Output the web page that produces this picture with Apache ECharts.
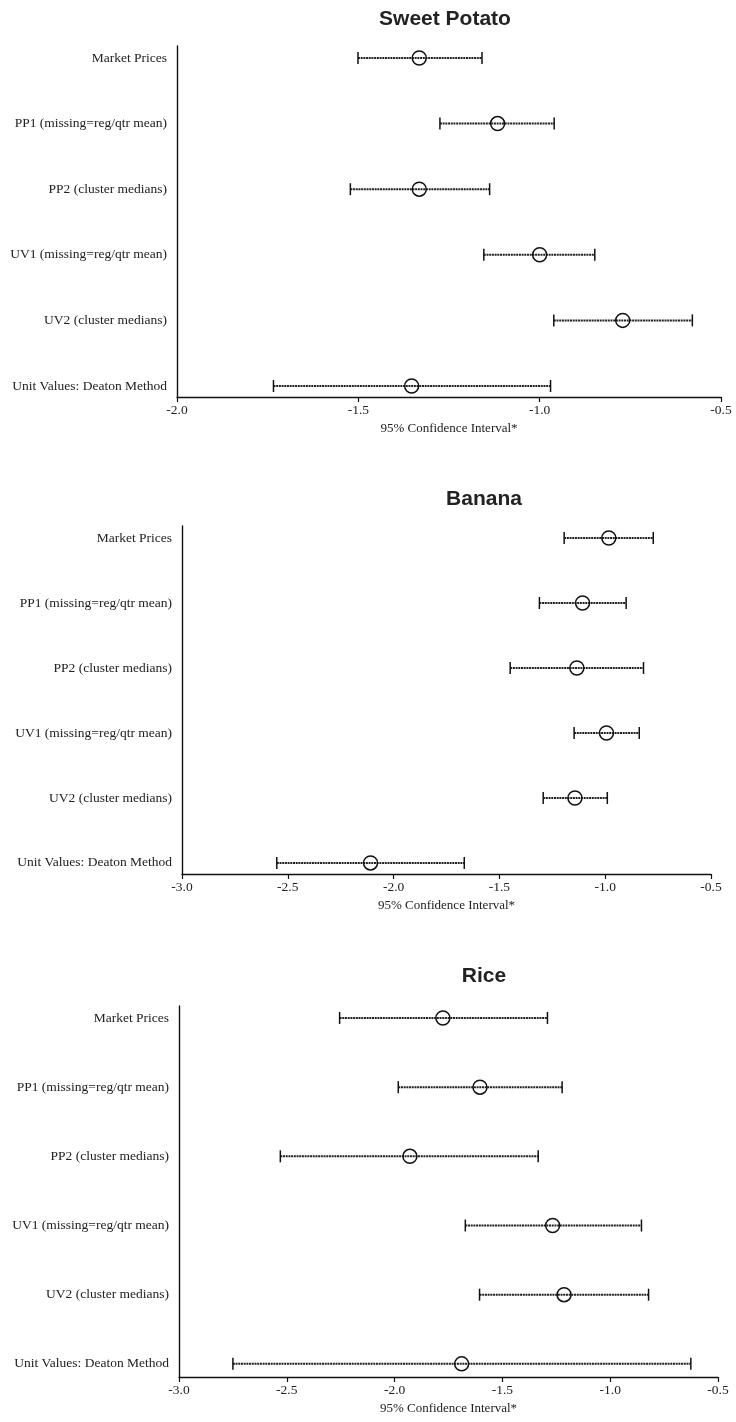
<!DOCTYPE html>
<html>
<head>
<meta charset="utf-8">
<script src="https://cdn.jsdelivr.net/npm/echarts@6/dist/echarts.min.js"></script>
<style>
html,body{margin:0;padding:0;background:#fff;}
#chart{width:736px;height:1422px;}
</style>
</head>
<body>
<div id="chart"></div>
<script>
// ---- Data ----
const categories = [
  'Market Prices',
  'PP1 (missing=reg/qtr mean)',
  'PP2 (cluster medians)',
  'UV1 (missing=reg/qtr mean)',
  'UV2 (cluster medians)',
  'Unit Values: Deaton Method'
];
const panelTitles = ['Sweet Potato', 'Banana', 'Rice'];
const axisName = '95% Confidence Interval*';

// Sweet Potato
const spLow  = [-1.501, -1.275, -1.522, -1.154, -0.961, -1.734];
const spMean = [-1.332, -1.116, -1.332, -1.000, -0.771, -1.353];
const spHigh = [-1.159, -0.960, -1.138, -0.848, -0.579, -0.970];
const spTicks = [-2.0, -1.5, -1.0, -0.5];

// Banana
const bnLow  = [-1.194, -1.311, -1.449, -1.147, -1.293, -2.552];
const bnMean = [-0.983, -1.107, -1.134, -0.994, -1.143, -2.109];
const bnHigh = [-0.773, -0.901, -0.819, -0.839, -0.990, -1.666];
const bnTicks = [-3.0, -2.5, -2.0, -1.5, -1.0, -0.5];

// Rice
const rcLow  = [-2.255, -1.983, -2.530, -1.672, -1.606, -2.750];
const rcMean = [-1.776, -1.604, -1.929, -1.267, -1.214, -1.689];
const rcHigh = [-1.291, -1.223, -1.334, -0.855, -0.822, -0.626];
const rcTicks = [-3.0, -2.5, -2.0, -1.5, -1.0, -0.5];

// ---- Layout ----
const panels = [
  {low: spLow, mean: spMean, high: spHigh, ticks: spTicks,
   left: 177, width: 544, top: 46, height: 351, yMin: -0.183, yMax: 5.168, titleX: 445, titleY: 9},
  {low: bnLow, mean: bnMean, high: bnHigh, ticks: bnTicks,
   left: 182, width: 529, top: 526, height: 348, yMin: -0.185, yMax: 5.17, titleX: 484, titleY: 489},
  {low: rcLow, mean: rcMean, high: rcHigh, ticks: rcTicks,
   left: 179, width: 539, top: 1006, height: 371, yMin: -0.173, yMax: 5.19, titleX: 484, titleY: 966}
];

const serif = '"Liberation Serif", "Times New Roman", serif';
const sans = '"Liberation Sans", Arial, Helvetica, sans-serif';

function renderErr(params, api) {
  const row = api.value(0);
  const lo = api.coord([api.value(1), row]);
  const mid = api.coord([api.value(2), row]);
  const hi = api.coord([api.value(3), row]);
  const cap = 6;
  return {
    type: 'group',
    children: [
      {type: 'line', shape: {x1: lo[0], y1: lo[1], x2: hi[0], y2: hi[1]},
       style: {stroke: '#222', lineWidth: 2, lineDash: [2, 0.7]}},
      {type: 'line', shape: {x1: lo[0], y1: lo[1] - cap, x2: lo[0], y2: lo[1] + cap},
       style: {stroke: '#111', lineWidth: 1.5}},
      {type: 'line', shape: {x1: hi[0], y1: hi[1] - cap, x2: hi[0], y2: hi[1] + cap},
       style: {stroke: '#111', lineWidth: 1.5}},
      {type: 'circle', shape: {cx: mid[0], cy: mid[1], r: 7},
       style: {fill: 'none', stroke: '#111', lineWidth: 1.5}}
    ]
  };
}

const option = {
  backgroundColor: '#fff',
  animation: false,
  title: [], grid: [], xAxis: [], yAxis: [], series: []
};

panels.forEach((p, i) => {
  option.title.push({
    text: panelTitles[i], left: p.titleX, top: p.titleY, textAlign: 'center', padding: 0,
    textStyle: {fontFamily: sans, fontWeight: 'bold', fontSize: 21, color: '#222'}
  });
  option.grid.push({left: p.left, width: p.width, top: p.top, height: p.height, containLabel: false});
  option.xAxis.push({
    type: 'value', gridIndex: i, position: 'bottom',
    min: p.ticks[0], max: p.ticks[p.ticks.length - 1], interval: 0.5,
    name: axisName, nameLocation: 'middle', nameGap: 25,
    nameTextStyle: {fontFamily: serif, fontSize: 13, color: '#222'},
    axisLine: {onZero: false, lineStyle: {color: '#111', width: 1.4}},
    axisTick: {show: true, length: 5, inside: false, lineStyle: {color: '#111', width: 1.2}},
    axisLabel: {fontFamily: serif, fontSize: 13.5, color: '#222', margin: 6,
      formatter: v => v.toFixed(1)},
    splitLine: {show: false}
  });
  option.yAxis.push({
    type: 'value', gridIndex: i, inverse: true, min: p.yMin, max: p.yMax,
    axisLine: {show: true, onZero: false, lineStyle: {color: '#111', width: 1.4}},
    axisTick: {show: false},
    splitLine: {show: false},
    axisLabel: {
      customValues: [0, 1, 2, 3, 4, 5],
      formatter: v => categories[Math.round(v)] || '',
      fontFamily: serif, fontSize: 13.5, color: '#222', margin: 10
    }
  });
  const data = categories.map((c, k) => [k, p.low[k], p.mean[k], p.high[k]]);
  option.series.push({
    type: 'custom', xAxisIndex: i, yAxisIndex: i,
    renderItem: renderErr,
    encode: {x: [1, 2, 3], y: 0},
    data: data, silent: true
  });
});

const chart = echarts.init(document.getElementById('chart'), null, {renderer: 'canvas'});
chart.setOption(option);
</script>
</body>
</html>
